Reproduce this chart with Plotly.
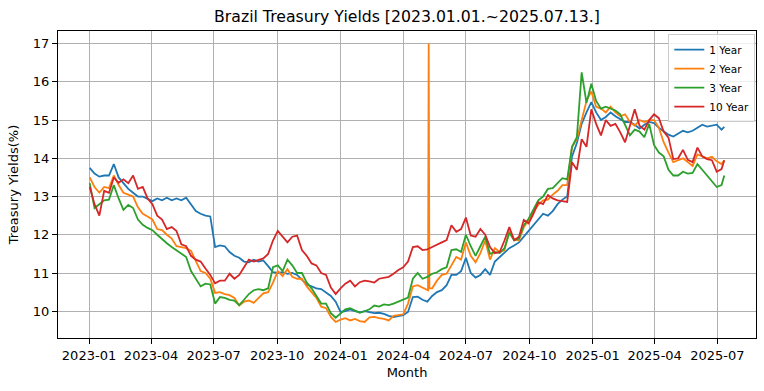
import pandas as pd
import plotly.graph_objects as go

# Weekly sample dates (Mondays) plus the last trading day
dates = list(pd.date_range("2023-01-02", periods=132, freq="7D").strftime("%Y-%m-%d")) + ["2025-07-11"]

yield_1y = [13.75,13.6,13.52,13.55,13.55,13.85,13.5,13.36,13.2,13.1,
            13.0,13.0,12.95,12.88,12.95,12.9,12.97,12.9,12.95,12.9,
            12.97,12.8,12.62,12.55,12.5,12.48,11.68,11.72,11.7,11.55,
            11.45,11.4,11.3,11.28,11.35,11.3,11.33,11.18,11.02,11.0,
            11.02,10.98,11.0,10.95,10.82,10.7,10.65,10.6,10.58,10.5,
            10.4,10.25,9.98,10.0,10.05,10.0,9.97,10.0,9.97,9.95,
            9.96,9.93,9.88,9.85,9.87,9.9,9.98,10.37,10.38,10.3,
            10.25,10.4,10.5,10.55,10.68,10.95,10.95,11.05,11.4,11.0,
            10.88,10.95,11.1,10.95,11.3,11.42,11.55,11.65,11.72,11.8,
            11.95,12.1,12.25,12.42,12.55,12.5,12.62,12.8,12.92,13.0,
            14.05,14.4,14.9,15.2,15.47,15.2,15.0,15.08,15.2,15.1,
            15.02,14.95,14.95,14.88,14.78,14.88,14.95,14.92,14.8,14.72,
            14.62,14.57,14.65,14.72,14.68,14.72,14.8,14.88,14.83,14.85,
            14.88,14.75,14.82]

yield_2y = [13.5,13.25,13.1,13.25,13.22,13.55,13.3,13.1,13.05,13.0,
            12.72,12.55,12.48,12.4,12.15,12.12,12.0,11.9,11.7,11.68,
            11.65,11.58,11.3,11.05,11.0,10.85,10.48,10.5,10.45,10.42,
            10.35,10.15,10.25,10.28,10.22,10.35,10.47,10.5,10.75,11.05,
            10.92,11.1,10.9,10.85,10.85,10.65,10.5,10.35,10.12,10.08,
            9.85,9.72,9.78,9.82,9.76,9.8,9.74,9.72,9.84,9.85,
            9.82,9.8,9.76,9.88,9.9,9.92,10.2,10.65,10.68,10.62,
            10.55,10.6,10.8,10.95,10.98,11.2,11.42,11.35,11.8,11.45,
            11.28,11.52,11.85,11.35,11.65,11.55,11.6,12.1,11.88,11.85,
            12.2,12.38,12.6,12.78,12.9,12.92,13.05,13.15,13.3,13.3,
            14.3,14.5,15.0,15.5,15.75,15.35,15.3,15.2,15.35,15.2,
            15.1,15.15,14.95,14.85,15.0,14.95,15.0,15.0,14.8,14.42,
            14.15,13.9,13.95,14.0,13.9,13.8,14.1,14.05,14.0,14.04,
            13.92,13.85,13.95]

# single-day outlier in the 2 Year series
spike_dates_2y = ["2024-05-07", "2024-05-08", "2024-05-09"]
spike_vals_2y = [10.55, 17.0, 10.6]

yield_3y = [13.35,12.7,12.8,12.9,12.92,13.3,12.95,12.65,12.78,12.7,
            12.4,12.26,12.18,12.12,12.0,11.88,11.78,11.68,11.6,11.52,
            11.42,11.05,10.85,10.65,10.72,10.7,10.2,10.37,10.35,10.3,
            10.28,10.16,10.3,10.45,10.55,10.58,10.55,10.6,11.15,11.2,
            11.05,11.35,11.2,11.0,11.0,10.75,10.6,10.4,10.2,10.2,
            9.95,9.83,9.95,10.05,10.08,10.03,9.96,10.0,10.05,10.15,
            10.12,10.18,10.16,10.2,10.25,10.3,10.36,10.85,11.0,10.85,
            10.9,10.98,11.02,11.1,11.15,11.6,11.62,11.55,12.0,11.7,
            11.45,11.7,11.95,11.5,11.55,11.52,11.65,12.05,11.85,11.9,
            12.25,12.42,12.65,12.9,13.0,13.2,13.22,13.35,13.48,13.45,
            14.3,14.55,16.25,15.45,15.95,15.5,15.3,15.35,15.3,15.25,
            15.15,14.85,14.6,14.75,14.7,14.55,14.9,14.35,14.15,14.05,
            13.7,13.55,13.55,13.65,13.6,13.62,13.85,13.7,13.55,13.4,
            13.25,13.3,13.55]

yield_10y = [13.25,12.8,12.5,13.15,13.1,13.5,13.36,13.45,13.35,13.55,
             13.2,13.25,12.95,12.8,12.5,12.4,12.15,12.2,12.1,11.75,
             11.7,11.45,11.35,11.3,11.12,10.95,10.73,10.8,10.8,10.98,
             10.85,10.95,11.15,11.35,11.3,11.35,11.38,11.5,11.85,12.1,
             11.95,11.8,11.95,11.98,11.6,11.45,11.25,11.2,11.0,10.95,
             10.62,10.45,10.6,10.72,10.8,10.65,10.76,10.8,10.78,10.75,
             10.85,10.87,10.9,10.98,11.08,11.15,11.3,11.68,11.7,11.6,
             11.62,11.68,11.75,11.8,11.86,12.25,12.08,12.15,12.45,11.98,
             11.95,12.15,12.0,11.68,11.52,11.55,11.85,12.2,11.86,11.95,
             12.39,12.3,12.55,12.85,12.8,13.04,12.95,12.9,12.88,12.86,
             13.9,13.7,14.5,14.3,15.28,14.9,14.6,15.0,14.85,14.9,
             14.68,14.42,14.85,15.28,14.85,14.75,15.0,15.15,15.05,14.7,
             14.54,13.98,14.0,14.22,13.96,13.9,14.28,14.05,13.98,13.95,
             13.65,13.72,13.95]

series_names = ["1 Year", "2 Year", "3 Year", "10 Year"]
colors = ["#1f77b4", "#ff7f0e", "#2ca02c", "#d62728"]

# merge the spike into the 2 Year series
s2 = pd.Series(yield_2y, index=pd.to_datetime(dates))
s2 = pd.concat([s2, pd.Series(spike_vals_2y, index=pd.to_datetime(spike_dates_2y))]).sort_index()

series = [
    (pd.to_datetime(dates), yield_1y),
    (s2.index, list(s2.values)),
    (pd.to_datetime(dates), yield_3y),
    (pd.to_datetime(dates), yield_10y),
]

fig = go.Figure()
for (x, y), name, c in zip(series, series_names, colors):
    fig.add_trace(go.Scatter(x=x, y=y, mode="lines", name=name,
                             line=dict(color=c, width=1.8)))

axis_style = dict(showgrid=True, gridcolor="#b0b0b0", gridwidth=1,
                  showline=True, linecolor="black", linewidth=1, mirror=True,
                  ticks="outside", ticklen=5, tickwidth=1, tickcolor="black",
                  zeroline=False, tickfont=dict(size=13))

fig.update_layout(
    width=764, height=391,
    margin=dict(l=58, r=8, t=31, b=53),
    paper_bgcolor="white", plot_bgcolor="white",
    font=dict(family="DejaVu Sans", size=13, color="black"),
    title=dict(text="Brazil Treasury Yields [2023.01.01.~2025.07.13.]",
               x=0.5, xref="paper", xanchor="center",
               y=1 - 17 / 391, yref="container", yanchor="middle",
               font=dict(size=15.7)),
    legend=dict(x=0.999, y=0.99, xanchor="right", yanchor="top",
                bgcolor="rgba(255,255,255,0.8)", bordercolor="#cccccc",
                borderwidth=1, font=dict(size=10.5), tracegroupgap=0),
)
fig.update_xaxes(type="date", range=["2022-11-17", "2025-08-26"],
                 tickformat="%Y-%m", dtick="M3", tick0="2023-01-01",
                 title=dict(text="Month", font=dict(size=13), standoff=6),
                 **axis_style)
fig.update_yaxes(range=[9.30, 17.33], dtick=1, tick0=10,
                 title=dict(text="Treasury Yields(%)", font=dict(size=13), standoff=11),
                 **axis_style)

fig.write_html("out.html", config={"displayModeBar": False},
               post_script="document.body.style.margin='0';")
